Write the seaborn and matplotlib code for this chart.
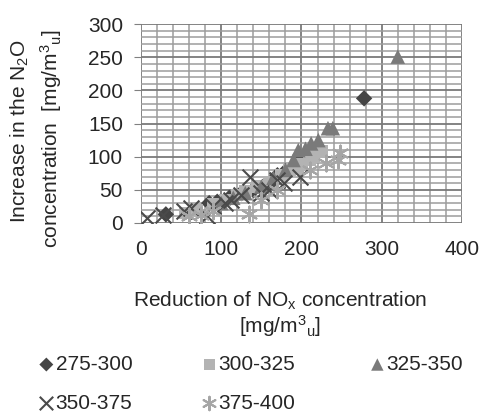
import numpy as np
import pandas as pd
import matplotlib
matplotlib.use("Agg")
import matplotlib.pyplot as plt
import seaborn as sns
from matplotlib.ticker import MultipleLocator

# data
groups = ["275-300", "300-325", "325-350", "350-375", "375-400"]

x_275 = [31, 85, 95, 110, 125, 140, 155, 170, 180, 200, 278]
y_275 = [13, 30, 32, 38, 45, 50, 58, 72, 78, 95, 188]

x_300 = [55, 70, 90, 105, 120, 130, 145, 160, 175, 185, 195, 200, 210, 215, 225]
y_300 = [15, 20, 28, 35, 42, 48, 55, 62, 72, 80, 82, 88, 95, 100, 108]

x_325 = [100, 115, 130, 150, 165, 180, 190, 196, 205, 212, 221, 233, 239, 320]
y_325 = [30, 38, 45, 55, 68, 80, 95, 110, 112, 120, 125, 143, 143, 251]

x_350 = [7, 28, 53, 62, 82, 90, 105, 112, 125, 136, 150, 160, 169, 178, 198]
y_350 = [8, 12, 18, 22, 10, 25, 30, 35, 42, 70, 45, 50, 65, 60, 70]

x_375 = [60, 75, 90, 134, 150, 170, 210, 230, 246, 248]
y_375 = [10, 12, 18, 13, 35, 50, 80, 90, 95, 105]

xs = [x_275, x_300, x_325, x_350, x_375]
ys = [y_275, y_300, y_325, y_350, y_375]
colors = ["#454545", "#b3b3b3", "#7a7a7a", "#4a4a4a", "#a6a6a6"]
markers = ["D", "s", "^", "x", (6, 2, 0)]
sizes = [70, 80, 110, 130, 130]

df = pd.concat([pd.DataFrame({"x": x, "y": y, "group": g})
                for x, y, g in zip(xs, ys, groups)], ignore_index=True)

sns.set_style("white")
plt.rcParams['font.family'] = ['Liberation Sans', 'DejaVu Sans']
plt.rcParams['mathtext.default'] = 'regular'

fig = plt.figure(figsize=(4.82, 4.16), dpi=100)
ax = fig.add_axes([0.2925, 0.464, 0.666, 0.478])

for g, c, m, s in zip(groups, colors, markers, sizes):
    sub = df[df["group"] == g]
    if m in ("x", (6, 2, 0)):
        sns.scatterplot(data=sub, x="x", y="y", ax=ax, color=c, marker=m,
                        s=s, linewidth=1.5, label=g, zorder=3)
    else:
        sns.scatterplot(data=sub, x="x", y="y", ax=ax, color=c, marker=m,
                        s=s, edgecolor="none", label=g, zorder=3)

ax.set_xlim(0, 400)
ax.set_ylim(0, 300)
ax.xaxis.set_major_locator(MultipleLocator(100))
ax.xaxis.set_minor_locator(MultipleLocator(20))
ax.yaxis.set_major_locator(MultipleLocator(50))
ax.yaxis.set_minor_locator(MultipleLocator(10))
ax.grid(which="major", color="#7a7a7a", linewidth=1.3)
ax.grid(which="minor", color="#9c9c9c", linewidth=1.1)
ax.set_axisbelow(True)
for sp in ax.spines.values():
    sp.set_visible(False)
ax.tick_params(axis="y", which="major", labelsize=15, length=5, pad=8,
               color="#808080", direction="out", left=True)
ax.tick_params(axis="x", which="major", labelsize=15, length=0, pad=12)
ax.tick_params(which="minor", length=0)
ax.set_xlabel("")
ax.set_ylabel("")

fig.text(0.042, 0.685, "Increase in the N$_2$O", rotation=90,
         ha="center", va="center", fontsize=15)
fig.text(0.105, 0.668, "concentration  [mg/m$^3$$_u$]", rotation=90,
         ha="center", va="center", fontsize=15)
fig.text(280 / 482, 1 - 301 / 416, "Reduction of NO$_x$ concentration",
         ha="center", va="center", fontsize=15)
fig.text(280 / 482, 1 - 326 / 416, "[mg/m$^3$$_u$]",
         ha="center", va="center", fontsize=15)

# legend laid out row-wise in three columns
handles, labels = ax.get_legend_handles_labels()
ax.get_legend().remove()
columns = [[0, 3], [1, 4], [2]]
col_x = [38, 201, 369]
for idx, cx in zip(columns, col_x):
    fig.legend([handles[i] for i in idx], [labels[i] for i in idx],
               loc="upper left", bbox_to_anchor=(cx / 482, 1 - 355 / 416),
               frameon=False, fontsize=15, handletextpad=0.05,
               markerscale=0.85, labelspacing=0.95, handlelength=0.8,
               borderpad=0, borderaxespad=0)

fig.savefig("out.png", dpi=100)
